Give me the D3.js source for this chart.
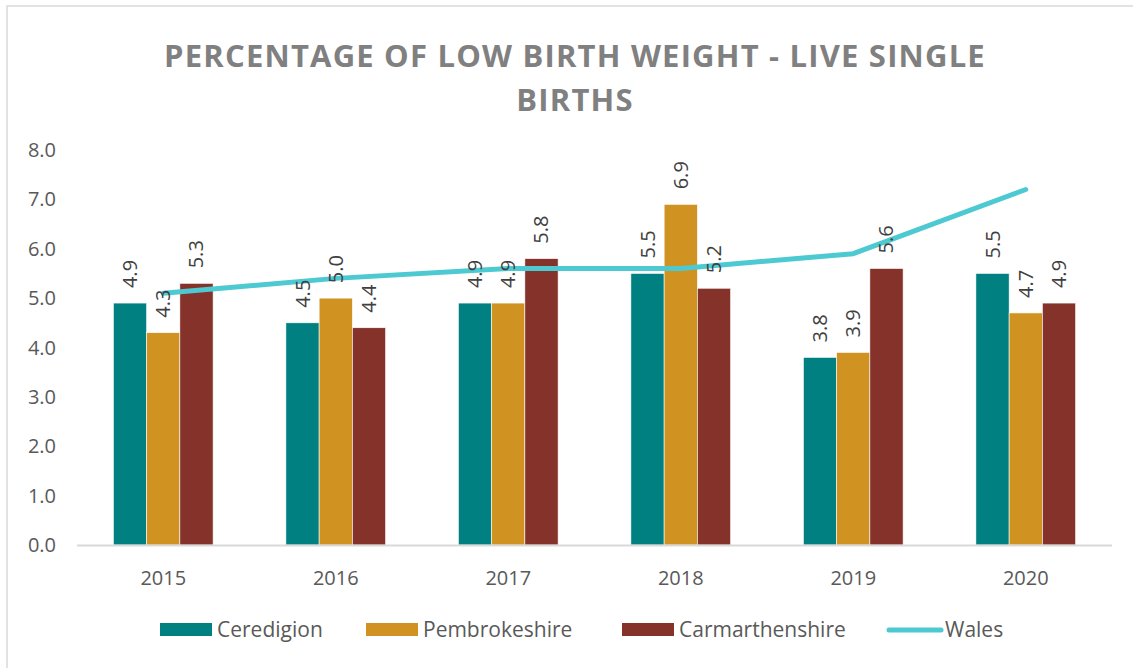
<!DOCTYPE html>
<html><head><meta charset="utf-8">
<script src="https://cdn.jsdelivr.net/npm/d3@7"></script>
<style>body{margin:0;background:#fff}svg{display:block}</style>
</head><body>
<script>
const years = ["2015","2016","2017","2018","2019","2020"];
const ceredigion = [4.9,4.5,4.9,5.5,3.8,5.5];
const pembrokeshire = [4.3,5.0,4.9,6.9,3.9,4.7];
const carmarthenshire = [5.3,4.4,5.8,5.2,5.6,4.9];
const wales = [5.1,5.4,5.6,5.6,5.9,7.2];
const yTicks = [0,1,2,3,4,5,6,7,8];
const seriesNames = ["Ceredigion","Pembrokeshire","Carmarthenshire"];
const colors = ["#008080","#D09322","#85332A"];
const walesColor = "#4DC9D2";

const W=1133,H=668;
const svg=d3.select("body").append("svg").attr("width",W).attr("height",H);
svg.append("rect").attr("x",7).attr("y",6).attr("width",W+10).attr("height",H+10).attr("fill","#fff").attr("stroke","#d9d9d9").attr("stroke-width",1.5);

const font="'Open Sans', sans-serif";
[["PERCENTAGE OF LOW BIRTH WEIGHT - LIVE SINGLE",67],["BIRTHS",111]].forEach(([t,yy])=>{
  svg.append("text").attr("x",575).attr("y",yy).attr("text-anchor","middle").attr("font-family",font).attr("font-weight",700).attr("font-size",31).attr("letter-spacing",1.2).attr("fill","#808080").text(t);
});

const x0=d3.scaleBand().domain(years).range([77,1112]).paddingInner(2.19/5.19).paddingOuter(1.095/5.19);
const x1=d3.scaleBand().domain(seriesNames).range([0,x0.bandwidth()]);
const y=d3.scaleLinear().domain([0,8]).range([545,150]);

// y labels
svg.append("g").selectAll("text").data(yTicks).join("text")
 .attr("x",56).attr("y",d=>y(d)).attr("dy","0.35em").attr("text-anchor","end")
 .attr("font-family",font).attr("font-size",20).attr("fill","#595959").text(d=>d.toFixed(1));

const data=[ceredigion,pembrokeshire,carmarthenshire];
data.forEach((vals,si)=>{
  const g=svg.append("g");
  g.selectAll("rect").data(vals).join("rect")
   .attr("x",(d,i)=>x0(years[i])+x1(seriesNames[si]))
   .attr("y",d=>y(d)).attr("width",x1.bandwidth()).attr("height",d=>y(0)-y(d))
   .attr("fill",colors[si]).attr("stroke","#fff").attr("stroke-width",0.6);
});

// axis line
svg.append("line").attr("x1",77).attr("x2",1112).attr("y1",545.5).attr("y2",545.5).attr("stroke","#d9d9d9").attr("stroke-width",2);

// x labels
svg.append("g").selectAll("text").data(years).join("text")
 .attr("x",d=>x0(d)+x0.bandwidth()/2).attr("y",585).attr("text-anchor","middle")
 .attr("font-family",font).attr("font-size",20).attr("fill","#595959").text(d=>d);

// wales line
const line=d3.line().x((d,i)=>x0(years[i])+x0.bandwidth()/2).y(d=>y(d));
svg.append("path").attr("d",line(wales)).attr("fill","none").attr("stroke",walesColor).attr("stroke-width",5).attr("stroke-linecap","round").attr("stroke-linejoin","round");

// data labels
data.forEach((vals,si)=>{
  svg.append("g").selectAll("text").data(vals).join("text")
   .attr("transform",(d,i)=>`translate(${x0(years[i])+x1(seriesNames[si])+x1.bandwidth()/2},${y(d)-15}) rotate(-90)`)
   .attr("dy","0.35em").attr("text-anchor","start")
   .attr("font-family",font).attr("font-size",20).attr("fill","#404040").text(d=>d.toFixed(1));
});

// legend
const leg=[{n:"Ceredigion",x:160,t:"rect",c:colors[0]},{n:"Pembrokeshire",x:366,t:"rect",c:colors[1]},{n:"Carmarthenshire",x:622,t:"rect",c:colors[2]},{n:"Wales",x:886,t:"line",c:walesColor}];
leg.forEach(l=>{
  if(l.t==="rect") svg.append("rect").attr("x",l.x).attr("y",623).attr("width",52).attr("height",13).attr("fill",l.c);
  else svg.append("line").attr("x1",l.x+3).attr("x2",l.x+55).attr("y1",630).attr("y2",630).attr("stroke",l.c).attr("stroke-width",5).attr("stroke-linecap","round");
  svg.append("text").attr("x",l.t==="rect"?l.x+57:l.x+59).attr("y",630).attr("dy","0.35em").attr("font-family",font).attr("font-size",21).attr("fill","#595959").text(l.n);
});
</script>
</body></html>
